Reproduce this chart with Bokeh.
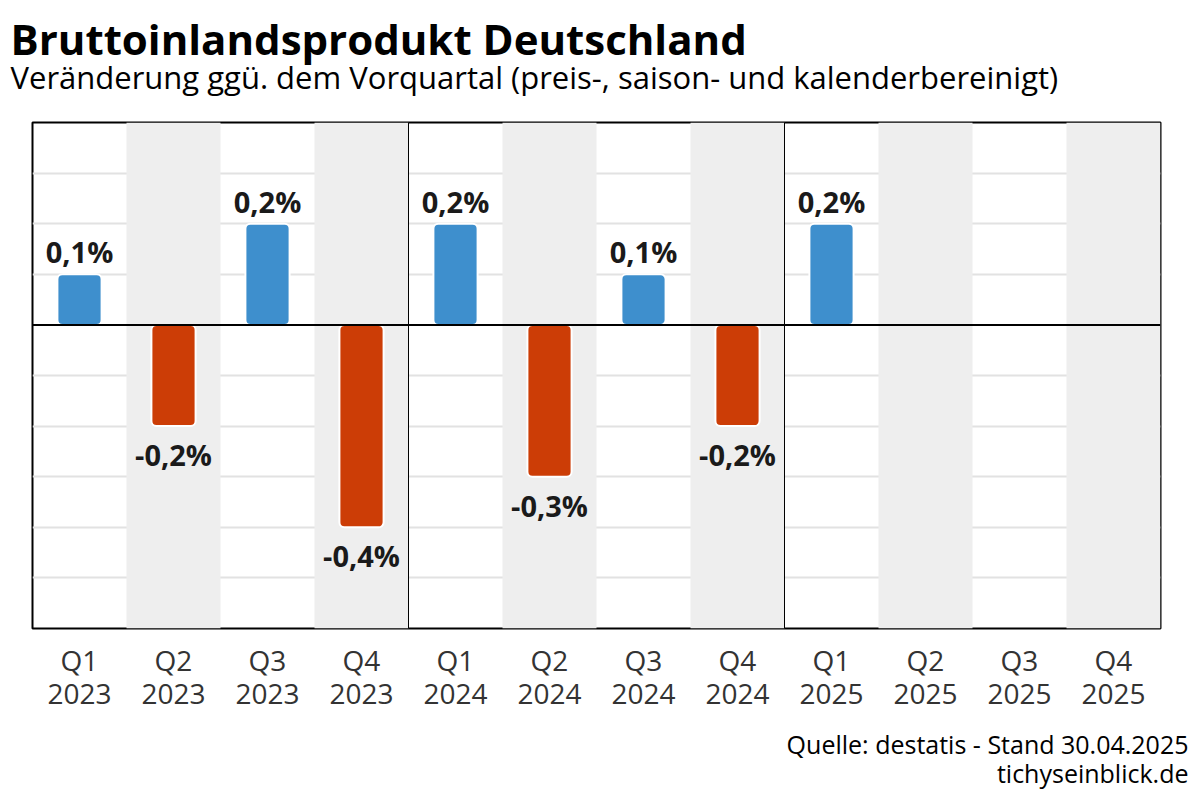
from bokeh.plotting import figure
from bokeh.layouts import column, row
from bokeh.models import (FactorRange, Span, FixedTicker, ColumnDataSource,
                          CategoricalAxis, CustomJSTickFormatter)
from bokeh.core.properties import value
from bokeh.embed import file_html
from bokeh.resources import INLINE

quarters = ["Q1", "Q2", "Q3", "Q4"] * 3
years = ["2023"] * 4 + ["2024"] * 4 + ["2025"] * 4
categories = [f"{q} {y}" for q, y in zip(quarters, years)]
values = [0.1, -0.2, 0.2, -0.4, 0.2, -0.3, 0.1, -0.2, 0.2]
labels = ["0,1%", "-0,2%", "0,2%", "-0,4%", "0,2%", "-0,3%", "0,1%", "-0,2%", "0,2%"]
y_ticks = [-0.5, -0.4, -0.3, -0.2, -0.1, 0.1, 0.2, 0.3]
y_min, y_max = -0.6, 0.4
title = "Bruttoinlandsprodukt Deutschland"
subtitle = "Veränderung ggü. dem Vorquartal (preis-, saison- und kalenderbereinigt)"
source_line = "Quelle: destatis - Stand 30.04.2025"
site_line = "tichyseinblick.de"

FONT = "Open Sans"
BLUE = "#3e8fcd"
RED = "#cc3d06"

W = 1200
HEAD_H, FOOT_H = 120, 80
ML, MR, MT, MB = 32, 40, 2, 92
FRAME_H = 506
MAIN_H = MT + FRAME_H + MB


def text_panel(height):
    f = figure(width=W, height=height, x_range=(0, W), y_range=(0, height), title=None,
               output_backend="svg", toolbar_location=None,
               min_border_left=0, min_border_right=0, min_border_top=0, min_border_bottom=0)
    f.axis.visible = False
    f.grid.visible = False
    f.outline_line_color = None
    f.background_fill_color = "white"
    f.border_fill_color = "white"
    return f


# header
head = text_panel(HEAD_H)
head.text(x=[10], y=[HEAD_H - 38], text=[title], text_font=value(FONT), text_font_size="42px",
          text_font_style="bold", text_color="black", text_baseline="alphabetic")
head.text(x=[10], y=[HEAD_H - 76], text=[subtitle], text_font=value(FONT), text_font_size="31px",
          text_color="black", text_baseline="alphabetic")

# main chart
p = figure(width=W, height=MAIN_H, x_range=FactorRange(*categories), title=None,
           y_range=(y_min, y_max), output_backend="svg", toolbar_location=None,
           min_border_left=ML, min_border_right=MR, min_border_top=MT, min_border_bottom=MB)

band_cats = [c for c in categories if c.startswith("Q2") or c.startswith("Q4")]
p.vbar(x=band_cats, top=y_max, bottom=y_min, width=1.0, fill_color="#eeeeee", line_color=None)

p.ygrid.ticker = FixedTicker(ticks=y_ticks)
p.ygrid.grid_line_color = "#e2e2e2"
p.ygrid.grid_line_width = 2
p.xgrid.grid_line_color = None
p.yaxis.visible = False

for i in range(1, 3):
    p.add_layout(Span(location=4 * i, dimension="height", line_color="black", line_width=1))
p.add_layout(Span(location=0, dimension="width", line_color="black", line_width=2))

colors = [BLUE if v >= 0 else RED for v in values]
src = ColumnDataSource(dict(x=categories[:len(values)], top=values, color=colors,
                            label=labels,
                            base=["bottom" if v >= 0 else "top" for v in values],
                            yoff=[-3 if v >= 0 else 9 for v in values]))
p.vbar(x="x", top="top", bottom=0, width=0.47, source=src, fill_color="color",
       line_color="white", line_width=2, border_radius=5)
p.text(x="x", y="top", text="label", source=src, text_align="center",
       text_baseline="base", y_offset="yoff", text_font=value(FONT),
       text_font_style="bold", text_font_size="29px", text_color="#1a1a1a")

p.outline_line_color = "black"
p.outline_line_width = 2
p.background_fill_color = "white"
p.border_fill_color = "white"


def style_axis(ax, part, standoff):
    ax.formatter = CustomJSTickFormatter(code=f"return tick.split(' ')[{part}];")
    ax.major_label_text_font = FONT
    ax.major_label_text_font_size = "28px"
    ax.major_label_text_color = "#333333"
    ax.major_label_standoff = standoff
    ax.axis_line_color = None
    ax.major_tick_line_color = None
    ax.minor_tick_line_color = None


style_axis(p.xaxis[0], 0, 6)
year_axis = CategoricalAxis()
p.add_layout(year_axis, "below")
style_axis(year_axis, 1, -4)

# footer
foot = text_panel(FOOT_H)
foot.text(x=[1188, 1188], y=[FOOT_H - 23, FOOT_H - 52], text=[source_line, site_line],
          text_font=value(FONT), text_font_size="25px", text_color="black",
          text_align="right", text_baseline="alphabetic")

layout = column(row(head), p, row(foot), spacing=0)
open("out.html", "w").write(file_html(layout, INLINE))
